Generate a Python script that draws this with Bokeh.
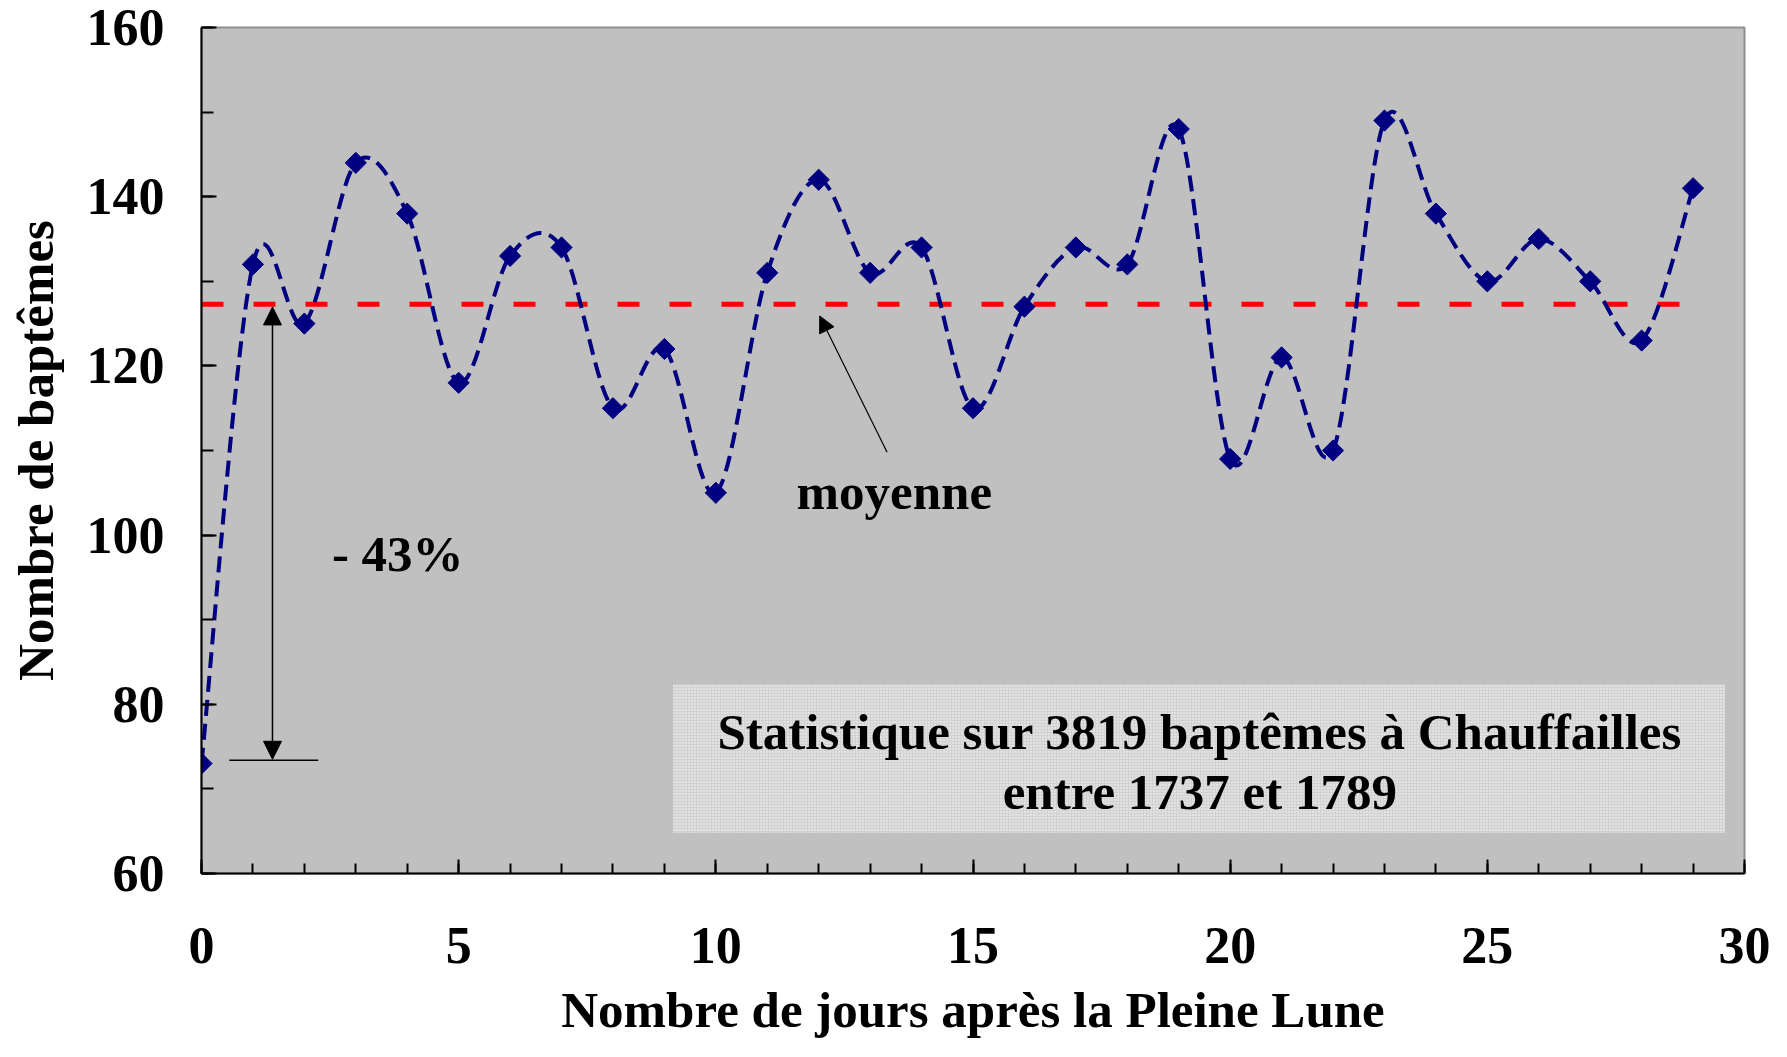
import numpy as np
from bokeh.plotting import figure
from bokeh.models import Range1d, FixedTicker, BoxAnnotation, Arrow, NormalHead, Label
from bokeh.embed import file_html
from bokeh.resources import INLINE

# ---- data ----
days = list(range(30))
baptemes = [73, 132, 125, 144, 138, 118, 133, 134, 115, 122,
            105, 131, 142, 131, 134, 115, 127, 134, 132, 148,
            109, 121, 110, 149, 138, 130, 135, 130, 123, 141]
x_ticks = [0, 5, 10, 15, 20, 25, 30]
x_minor = list(range(0, 31))
y_ticks = [60, 80, 100, 120, 140, 160]
y_minor = list(range(60, 161, 10))
x_title = "Nombre de jours après la Pleine Lune"
y_title = "Nombre de baptêmes"
box_line1 = "Statistique sur 3819 baptêmes à Chauffailles"
box_line2 = "entre 1737 et 1789"
mean_label = "moyenne"
drop_label = "- 43%"

moyenne = sum(baptemes) / len(baptemes)

FONT = "Liberation Serif"
FS = "51px"
NAVY = "#000080"

p = figure(width=1771, height=1041, x_range=Range1d(0, 30), y_range=Range1d(60, 160),
           output_backend="svg", toolbar_location=None,
           min_border_left=201, min_border_right=27, min_border_top=27, min_border_bottom=168)
p.background_fill_color = "#c0c0c0"
p.border_fill_color = "white"
p.outline_line_color = "#8f8f8f"
p.outline_line_width = 2
p.grid.visible = False

# mean line
p.line([days[0], days[-1]], [moyenne, moyenne], line_color="#ff0000", line_width=5, line_dash="22 30")

# smoothed line (Catmull-Rom as cubic Bezier, like a spreadsheet "smoothed line")
xs = np.array(days, dtype=float)
ys = np.array(baptemes, dtype=float)
n = len(xs)
bx0, by0, bx1, by1, c0x, c0y, c1x, c1y = [], [], [], [], [], [], [], []
for i in range(n - 1):
    a = i - 1 if i > 0 else i
    d = i + 2 if i + 2 < n else i + 1
    bx0.append(xs[i]); by0.append(ys[i])
    bx1.append(xs[i + 1]); by1.append(ys[i + 1])
    c0x.append(xs[i] + (xs[i + 1] - xs[a]) / 6.0)
    c0y.append(ys[i] + (ys[i + 1] - ys[a]) / 6.0)
    c1x.append(xs[i + 1] - (xs[d] - xs[i]) / 6.0)
    c1y.append(ys[i + 1] - (ys[d] - ys[i]) / 6.0)
p.bezier(x0=bx0, y0=by0, x1=bx1, y1=by1, cx0=c0x, cy0=c0y, cx1=c1x, cy1=c1y,
         line_color=NAVY, line_width=4, line_dash="16 8")

p.scatter(days, baptemes, marker="square", angle=np.pi / 4, size=15,
          fill_color=NAVY, line_color=NAVY)

# annotation box
p.add_layout(BoxAnnotation(left=9.17, right=29.62, bottom=64.81, top=82.34,
                           fill_color="#d2d2d2", fill_alpha=1.0, line_color=None,
                           hatch_pattern="dot", hatch_color="white", hatch_scale=3,
                           hatch_alpha=0.9))
p.add_layout(Label(x=19.41, y=76.75, text=box_line1, text_align="center", text_baseline="alphabetic",
                   text_font=FONT, text_font_size=FS, text_font_style="bold", text_color="black"))
p.add_layout(Label(x=19.41, y=69.6, text=box_line2, text_align="center", text_baseline="alphabetic",
                   text_font=FONT, text_font_size=FS, text_font_style="bold", text_color="black"))

# -43% arrow
p.add_layout(Arrow(start=NormalHead(size=18, fill_color="black", line_color="black"),
                   end=NormalHead(size=18, fill_color="black", line_color="black"),
                   x_start=1.38, y_start=126.97, x_end=1.38, y_end=73.5,
                   line_color="black", line_width=1.5))
p.add_layout(Arrow(end=None, x_start=0.54, y_start=73.4, x_end=2.27, y_end=73.4,
                   line_color="black", line_width=1.5))
p.add_layout(Label(x=2.535, y=97.75, text=drop_label, text_align="left", text_baseline="alphabetic",
                   text_font=FONT, text_font_size=FS, text_font_style="bold", text_color="black"))

# moyenne arrow
p.add_layout(Arrow(end=NormalHead(size=16, fill_color="black", line_color="black"),
                   x_start=13.33, y_start=109.8, x_end=12.02, y_end=125.9,
                   line_color="black", line_width=1.2))
p.add_layout(Label(x=13.47, y=105.1, text=mean_label, text_align="center", text_baseline="alphabetic",
                   text_font=FONT, text_font_size=FS, text_font_style="bold", text_color="black"))

# axes
xa = p.xaxis[0]
xa.ticker = FixedTicker(ticks=x_ticks, minor_ticks=x_minor)
ya = p.yaxis[0]
ya.ticker = FixedTicker(ticks=y_ticks, minor_ticks=y_minor)
for ax in (xa, ya):
    ax.axis_line_color = "black"
    ax.axis_line_width = 2
    ax.major_tick_out = 0
    ax.minor_tick_out = 0
    ax.major_tick_line_color = "black"
    ax.minor_tick_line_color = "black"
    ax.major_tick_line_width = 2
    ax.minor_tick_line_width = 2
    ax.major_label_text_font = FONT
    ax.major_label_text_font_size = "52px"
    ax.major_label_text_font_style = "bold"
    ax.major_label_text_color = "black"
    ax.axis_label_text_font = FONT
    ax.axis_label_text_font_size = FS
    ax.axis_label_text_font_style = "bold"
    ax.axis_label_text_color = "black"
xa.major_tick_in = 14
xa.minor_tick_in = 10
ya.major_tick_in = 15
ya.minor_tick_in = 12
xa.axis_label = x_title
ya.axis_label = y_title
xa.major_label_standoff = 54
ya.major_label_standoff = 37
xa.axis_label_standoff = 16
ya.axis_label_standoff = 20

open("out.html", "w").write(file_html(p, INLINE))
